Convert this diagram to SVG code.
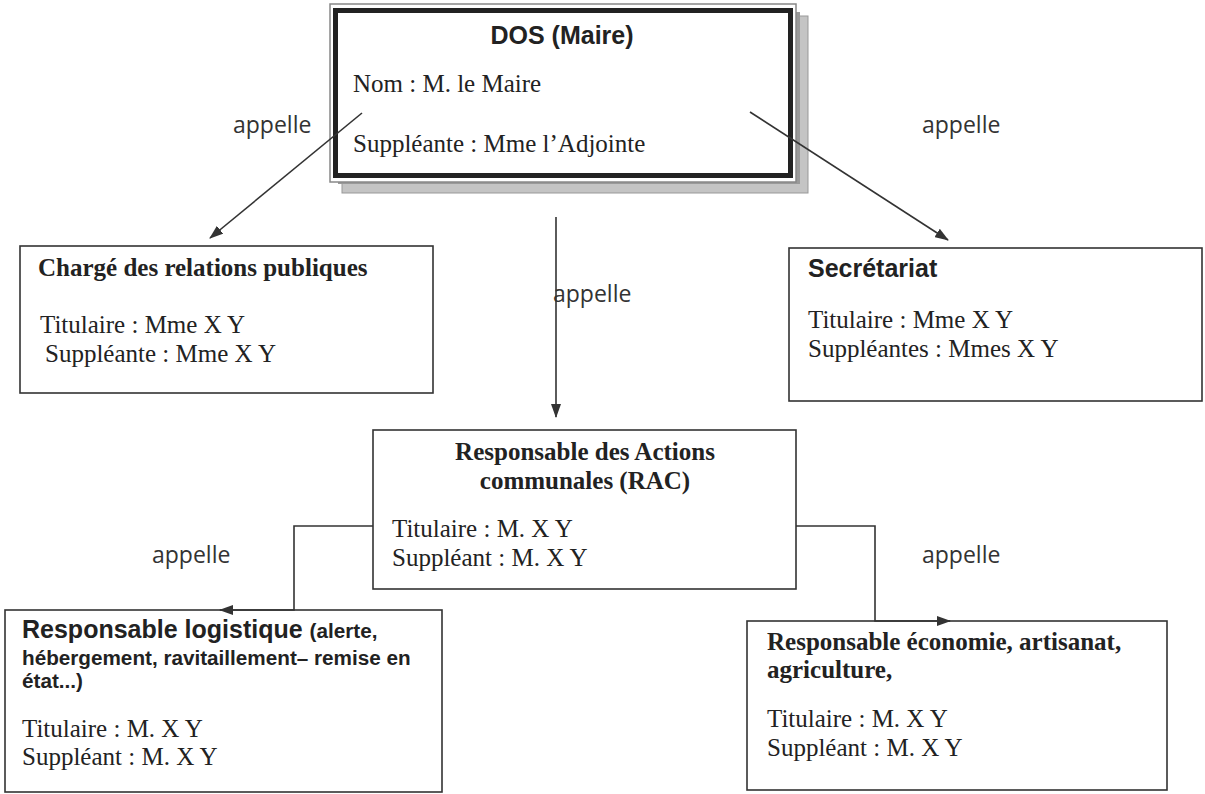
<svg xmlns="http://www.w3.org/2000/svg" width="1205" height="794" viewBox="0 0 1205 794">
<defs>
<style>
.box{fill:#fff;stroke:#333;stroke-width:1.6}
.ser{font-family:"Liberation Serif","Times New Roman",serif;font-size:25px;fill:#222}
.serb{font-family:"Liberation Serif","Times New Roman",serif;font-size:25px;font-weight:bold;fill:#222}
.sanb{font-family:"Liberation Sans",Arial,sans-serif;font-size:25px;font-weight:bold;fill:#222}
.sanbs{font-size:20.7px}
.lbl{font-family:"Open Sans","Liberation Sans",sans-serif;font-size:23px;fill:#333}
.con{fill:none;stroke:#333;stroke-width:1.6}
</style>
<marker id="ah" viewBox="0 0 14 10" refX="13" refY="5" markerWidth="14" markerHeight="10" markerUnits="userSpaceOnUse" orient="auto">
<path d="M0,0 L14,5 L0,10 Z" fill="#333"/>
</marker>
</defs>
<rect width="1205" height="794" fill="#fff"/>

<g id="dos">
<rect x="342" y="16" width="466" height="177" fill="#c4c4c4" stroke="#999" stroke-width="1"/>
<rect x="338" y="12" width="462" height="172" fill="#9a9a9a"/>
<rect x="330" y="4" width="466" height="178" fill="#fff" stroke="#888" stroke-width="1.5"/>
<rect x="335.5" y="10.5" width="455" height="165" fill="#fff" stroke="#222" stroke-width="5"/>
<text class="sanb" x="562" y="44" text-anchor="middle">DOS (Maire)</text>
<text class="ser" x="353" y="92">Nom : M. le Maire</text>
<text class="ser" x="353" y="152">Suppléante : Mme l’Adjointe</text>
</g>

<g id="relations">
<rect class="box" x="20" y="246" width="413" height="147"/>
<text class="serb" x="38" y="276">Chargé des relations publiques</text>
<text class="ser" x="40" y="333">Titulaire : Mme X Y</text>
<text class="ser" x="45" y="362">Suppléante : Mme X Y</text>
</g>

<g id="secretariat">
<rect class="box" x="789" y="248" width="413" height="153"/>
<text class="sanb" x="808" y="277">Secrétariat</text>
<text class="ser" x="808" y="328">Titulaire : Mme X Y</text>
<text class="ser" x="808" y="357">Suppléantes : Mmes X Y</text>
</g>

<g id="rac">
<rect class="box" x="373" y="430" width="423" height="159"/>
<text class="serb" x="585" y="460" text-anchor="middle">Responsable des Actions</text>
<text class="serb" x="585" y="489" text-anchor="middle">communales (RAC)</text>
<text class="ser" x="392" y="537">Titulaire : M. X Y</text>
<text class="ser" x="392" y="566">Suppléant : M. X Y</text>
</g>

<g id="logistique">
<rect class="box" x="5" y="610" width="437" height="182"/>
<text class="sanb" x="22" y="638">Responsable logistique <tspan class="sanbs">(alerte,</tspan></text>
<text class="sanb sanbs" x="22" y="665">hébergement, ravitaillement– remise en</text>
<text class="sanb sanbs" x="22" y="688">état...)</text>
<text class="ser" x="22" y="737">Titulaire : M. X Y</text>
<text class="ser" x="22" y="765">Suppléant : M. X Y</text>
</g>

<g id="economie">
<rect class="box" x="747" y="621" width="420" height="169"/>
<text class="serb" x="767" y="650">Responsable économie, artisanat,</text>
<text class="serb" x="767" y="678">agriculture,</text>
<text class="ser" x="767" y="727">Titulaire : M. X Y</text>
<text class="ser" x="767" y="756">Suppléant : M. X Y</text>
</g>

<g id="connectors">
<line class="con" x1="362" y1="113" x2="210" y2="238" marker-end="url(#ah)"/>
<line class="con" x1="750" y1="112" x2="948" y2="240" marker-end="url(#ah)"/>
<line class="con" x1="556" y1="217" x2="556" y2="417" marker-end="url(#ah)"/>
<polyline class="con" points="373,526 294,526 294,610 220,610" marker-end="url(#ah)"/>
<polyline class="con" points="796,526 875,526 875,621 950,621" marker-end="url(#ah)"/>
<text class="lbl" x="233" y="133">appelle</text>
<text class="lbl" x="922" y="133">appelle</text>
<text class="lbl" x="553" y="302">appelle</text>
<text class="lbl" x="152" y="563">appelle</text>
<text class="lbl" x="922" y="563">appelle</text>
</g>
</svg>
